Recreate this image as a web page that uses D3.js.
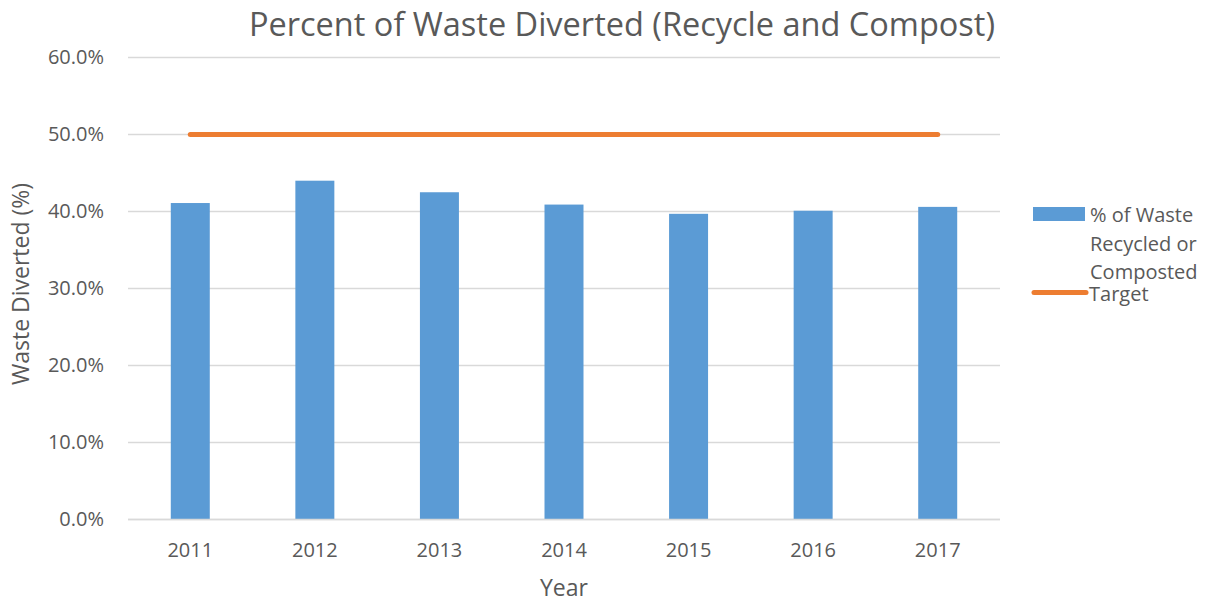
<!DOCTYPE html>
<html>
<head>
<meta charset="utf-8">
<script src="https://cdn.jsdelivr.net/npm/d3@7"></script>
<style>
  body { margin: 0; background: #fff; }
  text { font-family: "Open Sans", "Noto Sans", sans-serif; fill: #595959; }
</style>
</head>
<body>
<div id="chart"></div>
<script>
var years = ["2011", "2012", "2013", "2014", "2015", "2016", "2017"];
var diverted = [41.1, 44.0, 42.5, 40.9, 39.7, 40.1, 40.6];
var target = [50, 50, 50, 50, 50, 50, 50];
var yTicks = [0, 10, 20, 30, 40, 50, 60];

var width = 1211, height = 602;
var margin = { left: 128, right: 211, top: 57.5, bottom: 82.5 };

var svg = d3.select("#chart").append("svg")
    .attr("width", width)
    .attr("height", height);

var x = d3.scaleBand()
    .domain(years)
    .range([margin.left, width - margin.right])
    .paddingInner(0.687)
    .paddingOuter(0.3435);

var y = d3.scaleLinear()
    .domain([0, 60])
    .range([height - margin.bottom, margin.top]);

// gridlines
svg.append("g")
    .selectAll("line")
    .data(yTicks)
    .enter()
    .append("line")
    .attr("x1", margin.left)
    .attr("x2", width - margin.right)
    .attr("y1", function (d) { return y(d); })
    .attr("y2", function (d) { return y(d); })
    .style("stroke", "#d9d9d9")
    .style("stroke-width", 1.5);

// y axis labels
var yAxis = d3.axisLeft(y)
    .tickValues(yTicks)
    .tickSize(0)
    .tickPadding(24)
    .tickFormat(function (d) { return d.toFixed(1) + "%"; });

var gy = svg.append("g")
    .attr("transform", "translate(" + margin.left + ",0)")
    .call(yAxis);
gy.select(".domain").remove();
gy.selectAll("text")
    .style("font-family", "'Open Sans', sans-serif")
    .style("font-size", "20px")
    .style("fill", "#595959");

// bars
svg.append("g")
    .selectAll("rect")
    .data(diverted)
    .enter()
    .append("rect")
    .attr("x", function (d, i) { return x(years[i]); })
    .attr("width", x.bandwidth())
    .attr("y", function (d) { return y(d); })
    .attr("height", function (d) { return y(0) - y(d); })
    .style("fill", "#5b9bd5");

// baseline
svg.append("line")
    .attr("x1", margin.left)
    .attr("x2", width - margin.right)
    .attr("y1", y(0))
    .attr("y2", y(0))
    .style("stroke", "#d9d9d9")
    .style("stroke-width", 1.5);

// target line
var line = d3.line()
    .x(function (d, i) { return x(years[i]) + x.bandwidth() / 2; })
    .y(function (d) { return y(d); });

svg.append("path")
    .attr("d", line(target))
    .style("fill", "none")
    .style("stroke", "#ed7d31")
    .style("stroke-width", 5)
    .style("stroke-linecap", "round");

// x axis labels
var xAxis = d3.axisBottom(x).tickSize(0).tickPadding(23);
var gx = svg.append("g")
    .attr("transform", "translate(0," + y(0) + ")")
    .call(xAxis);
gx.select(".domain").remove();
gx.selectAll("text")
    .style("font-family", "'Open Sans', sans-serif")
    .style("font-size", "20px")
    .style("fill", "#595959");

// titles
svg.append("text")
    .attr("x", 622)
    .attr("y", 36)
    .attr("text-anchor", "middle")
    .style("font-size", "32.5px")
    .text("Percent of Waste Diverted (Recycle and Compost)");

svg.append("text")
    .attr("x", 564)
    .attr("y", 596)
    .attr("text-anchor", "middle")
    .style("font-size", "23px")
    .text("Year");

svg.append("text")
    .attr("transform", "translate(29,284) rotate(-90)")
    .attr("text-anchor", "middle")
    .style("font-size", "23px")
    .text("Waste Diverted (%)");

// legend
var legend = svg.append("g");
legend.append("rect")
    .attr("x", 1033)
    .attr("y", 207)
    .attr("width", 52)
    .attr("height", 14)
    .style("fill", "#5b9bd5");
var legLines = ["% of Waste", "Recycled or", "Composted"];
legend.selectAll("text.l")
    .data(legLines)
    .enter()
    .append("text")
    .attr("x", 1090)
    .attr("y", function (d, i) { return 222 + i * 28.5; })
    .style("font-size", "20px")
    .text(function (d) { return d; });
legend.append("line")
    .attr("x1", 1034)
    .attr("x2", 1086)
    .attr("y1", 292.5)
    .attr("y2", 292.5)
    .style("stroke", "#ed7d31")
    .style("stroke-width", 5)
    .style("stroke-linecap", "round");
legend.append("text")
    .attr("x", 1089)
    .attr("y", 301)
    .style("font-size", "20px")
    .text("Target");
</script>
</body>
</html>
